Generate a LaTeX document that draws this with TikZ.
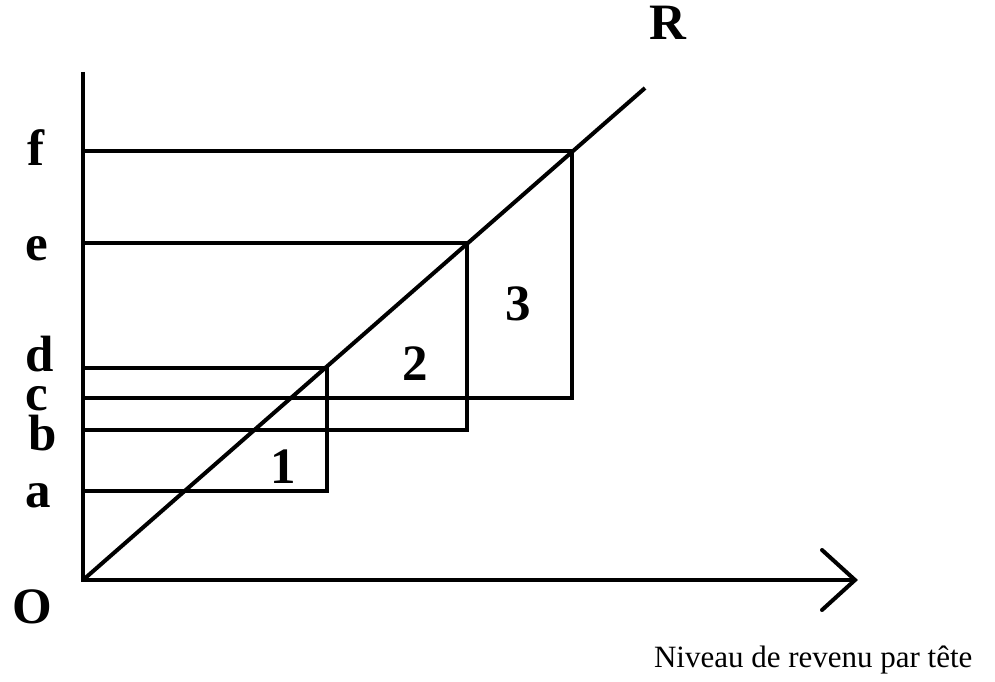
\documentclass[tikz,border=0pt]{standalone}
\usepackage{fontspec}
\setmainfont{Liberation Serif}
\begin{document}
\begin{tikzpicture}[x=1pt,y=-1pt,line width=4pt,font=\fontsize{51}{51}\selectfont\bfseries]
\useasboundingbox (0,0) rectangle (995,682);
\coordinate (O) at (83,580);
\coordinate (top) at (83,72);
\coordinate (tip) at (855,580);
\coordinate (R) at (645,88);
\draw (top)--(O)--(tip);
\draw[line cap=round] (822,550)--(tip)--(822,610);
\draw (O)--(R);
\foreach \t/\b/\r in {151/398/572,243/430/467,368/491/327}{
 \draw (83,\t)--(\r,\t)--(\r,\b)--(83,\b);
}
\foreach \x/\y/\l in {36/165/f,37/260/e,40/371/d,37/410/c,43/450/b,38/507/a,32/623/O,668/40/R,283/483/1,415/380/2,518/320/3}{
 \node[anchor=base,inner sep=0pt] (lab\l) at (\x,\y) {\l};
}
\node[anchor=base west,inner sep=0pt,font=\normalfont\fontsize{31}{31}\selectfont] (axis) at (652,667) {Niveau de revenu par tête};
\end{tikzpicture}
\end{document}
